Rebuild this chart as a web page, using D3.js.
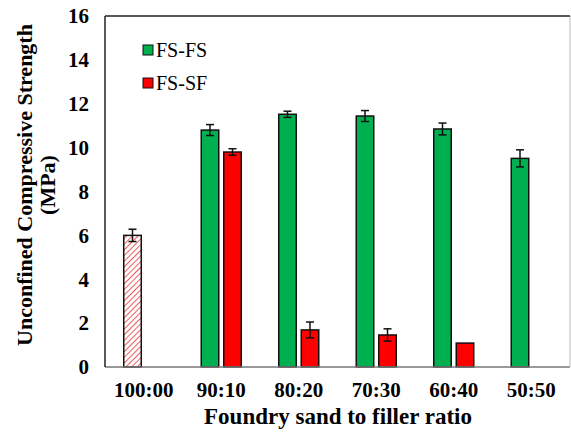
<!DOCTYPE html>
<html>
<head>
<meta charset="utf-8">
<script src="https://cdn.jsdelivr.net/npm/d3@7"></script>
<style>
  html, body { margin: 0; padding: 0; background: #fff; }
</style>
</head>
<body>
<svg id="chart" width="571" height="432"></svg>
<script>
// chart data
const categories = ['100:00', '90:10', '80:20', '70:30', '60:40', '50:50']
const seriesNames = ['FS-FS', 'FS-SF']
const fsfsValues = [null, 10.8, 11.52, 11.44, 10.85, 9.51]
const fsfsErrors = [null, 0.25, 0.14, 0.25, 0.27, 0.39]
const fssfValues = [null, 9.8, 1.69, 1.46, 1.09, null]
const fssfErrors = [null, 0.15, 0.36, 0.28, 0, null]
// 100% foundry sand control, drawn hatched in the first slot
const controlValues = [6.0, null, null, null, null, null]
const controlErrors = [0.28, null, null, null, null, null]
const yTicks = [0, 2, 4, 6, 8, 10, 12, 14, 16]

const colors = { 'FS-FS': '#00B050', 'FS-SF': '#FF0000' }
const serif = "'Liberation Serif'"

const margin = { top: 16, right: 1, bottom: 65, left: 105 }
const width = 571
const height = 432

const svg = d3.select('#chart')

// hatch pattern for the control bar
const defs = svg.append('defs')
const pattern = defs
  .append('pattern')
  .attr('id', 'hatch')
  .attr('patternUnits', 'userSpaceOnUse')
  .attr('width', 4)
  .attr('height', 4)
  .attr('patternTransform', 'rotate(45)')
pattern.append('rect').attr('width', 4).attr('height', 4).attr('fill', '#fff')
pattern
  .append('line')
  .attr('x1', 0).attr('y1', 0)
  .attr('x2', 0).attr('y2', 4)
  .attr('stroke', '#f03030')
  .attr('stroke-width', 1.6)

const x0 = d3
  .scaleBand()
  .domain(categories)
  .range([margin.left, width - margin.right])

const x1 = d3
  .scaleBand()
  .domain(seriesNames)
  .range([0, x0.bandwidth()])
  .paddingInner(0.222)
  .paddingOuter(0.833)

const y = d3
  .scaleLinear()
  .domain([0, 16])
  .range([height - margin.bottom, margin.top])

// y tick labels
svg
  .append('g')
  .selectAll('text')
  .data(yTicks)
  .enter()
  .append('text')
  .attr('x', margin.left - 16)
  .attr('y', (d) => y(d))
  .attr('dy', '0.35em')
  .attr('text-anchor', 'end')
  .style('font-family', serif)
  .style('font-size', '21px')
  .style('font-weight', 'bold')
  .text((d) => d)

// x tick labels
svg
  .append('g')
  .selectAll('text')
  .data(categories)
  .enter()
  .append('text')
  .attr('x', (d) => x0(d) + x0.bandwidth() / 2)
  .attr('y', 397)
  .attr('text-anchor', 'middle')
  .style('font-family', serif)
  .style('font-size', '21px')
  .style('font-weight', 'bold')
  .text((d) => d)

// bars
const rows = []
categories.forEach((c, i) => {
  if (controlValues[i] != null) rows.push({ cat: c, series: 'FS-FS', v: controlValues[i], e: controlErrors[i], fill: 'url(#hatch)' })
  if (fsfsValues[i] != null) rows.push({ cat: c, series: 'FS-FS', v: fsfsValues[i], e: fsfsErrors[i], fill: colors['FS-FS'] })
  if (fssfValues[i] != null) rows.push({ cat: c, series: 'FS-SF', v: fssfValues[i], e: fssfErrors[i], fill: colors['FS-SF'] })
})

const bar = svg
  .append('g')
  .selectAll('g')
  .data(rows)
  .enter()
  .append('g')

bar
  .append('rect')
  .attr('x', (d) => x0(d.cat) + x1(d.series))
  .attr('y', (d) => y(d.v))
  .attr('width', x1.bandwidth())
  .attr('height', (d) => y(0) - y(d.v))
  .attr('fill', (d) => d.fill)
  .attr('stroke', '#111')
  .attr('stroke-width', 1.5)

// error bars
const errs = bar.filter((d) => d.e > 0)
const cx = (d) => x0(d.cat) + x1(d.series) + x1.bandwidth() / 2
errs
  .append('line')
  .attr('x1', cx).attr('x2', cx)
  .attr('y1', (d) => y(d.v + d.e))
  .attr('y2', (d) => y(d.v - d.e))
  .attr('stroke', '#111')
  .attr('stroke-width', 1.5)
;['+', '-'].forEach((s) => {
  errs
    .append('line')
    .attr('x1', (d) => cx(d) - 4)
    .attr('x2', (d) => cx(d) + 4)
    .attr('y1', (d) => y(s === '+' ? d.v + d.e : d.v - d.e))
    .attr('y2', (d) => y(s === '+' ? d.v + d.e : d.v - d.e))
    .attr('stroke', '#111')
    .attr('stroke-width', 1.5)
})

// frame
const frameL = margin.left
const frameR = width - margin.right
const frameT = margin.top
const frameB = height - margin.bottom
svg.append('line').attr('x1', frameL).attr('x2', frameR).attr('y1', frameB).attr('y2', frameB)
  .attr('stroke', '#777').attr('stroke-width', 1.5)
svg.append('line').attr('x1', frameR).attr('x2', frameR).attr('y1', frameT).attr('y2', frameB)
  .attr('stroke', '#bbb').attr('stroke-width', 1)
svg.append('line').attr('x1', frameL).attr('x2', frameR).attr('y1', frameT).attr('y2', frameT)
  .attr('stroke', '#222').attr('stroke-width', 1.5)
svg.append('line').attr('x1', frameL).attr('x2', frameL).attr('y1', frameT).attr('y2', frameB)
  .attr('stroke', '#222').attr('stroke-width', 1.5)

// legend
const legend = svg
  .append('g')
  .selectAll('g')
  .data(seriesNames)
  .enter()
  .append('g')
  .attr('transform', (d, i) => `translate(143,${45 + i * 33})`)
legend
  .append('rect')
  .attr('width', 10)
  .attr('height', 10)
  .attr('fill', (d) => colors[d])
  .attr('stroke', '#111')
  .attr('stroke-width', 1)
legend
  .append('text')
  .attr('x', 13)
  .attr('y', 5)
  .attr('dy', '0.35em')
  .style('font-family', serif)
  .style('font-size', '20px')
  .text((d) => d)

// axis titles
svg
  .append('text')
  .attr('transform', 'translate(338,424)')
  .attr('text-anchor', 'middle')
  .style('font-family', serif)
  .style('font-size', '23px')
  .style('font-weight', 'bold')
  .text('Foundry sand to filler ratio')

const ylab = svg
  .append('text')
  .attr('transform', 'translate(0,185) rotate(-90)')
  .attr('text-anchor', 'middle')
  .style('font-family', serif)
  .style('font-size', '22px')
  .style('font-weight', 'bold')
ylab.append('tspan').attr('x', 0).attr('y', 32).text('Unconfined Compressive Strength')
ylab.append('tspan').attr('x', 0).attr('y', 55).text('(MPa)')
</script>
</body>
</html>
